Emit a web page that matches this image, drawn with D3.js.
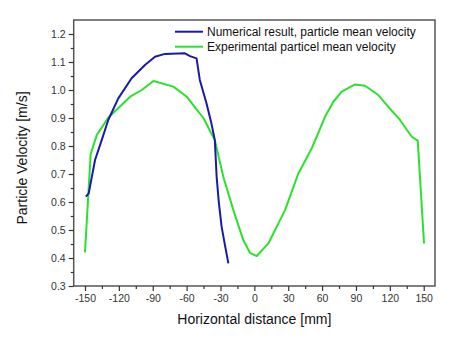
<!DOCTYPE html>
<html><head><meta charset="utf-8">
<script src="https://cdn.jsdelivr.net/npm/d3@7"></script>
<style>body{margin:0;background:#fff}svg{display:block;font-family:"Liberation Sans",Arial,sans-serif}</style>
</head><body><div id="chart"></div>
<script>
const numX = [-149.3,-146.7,-141.1,-135.2,-129.4,-120.5,-108.7,-96.9,-88,-79.2,-61.5,-57,-51.2,-48.3,-42.4,-38,-35,-33.4,-31.5,-29,-26,-23];
const numY = [0.619,0.631,0.75,0.821,0.893,0.97,1.042,1.089,1.119,1.129,1.131,1.121,1.113,1.036,0.953,0.88,0.821,0.69,0.6,0.512,0.445,0.381];
const expX = [-150,-145,-139.6,-129.6,-110,-99.7,-89.4,-71.7,-59.9,-51,-45.1,-40,-35,-27.5,-18.6,-9.8,-3.8,2.1,12.4,27.2,39,50.9,62.7,70,77.4,89.2,98,109.8,118.7,129,139.4,144.7,150.3];
const expY = [0.42,0.77,0.839,0.9,0.976,1.0,1.032,1.012,0.976,0.93,0.9,0.86,0.821,0.69,0.571,0.464,0.418,0.407,0.452,0.571,0.702,0.792,0.905,0.958,0.994,1.02,1.015,0.982,0.94,0.893,0.833,0.819,0.452];
const xTicks = [-150,-120,-90,-60,-30,0,30,60,90,120,150];
const yTicks = [0.3,0.4,0.5,0.6,0.7,0.8,0.9,1.0,1.1,1.2];
const seriesNames = ["Numerical result, particle mean velocity","Experimental particel mean velocity"];
const colors = ["#1a1aaa","#2ee02e"];

const W=450,H=343, L=73.7, R=435, T=20, B=286;
const svg=d3.select("#chart").append("svg").attr("width",W).attr("height",H);
const x=d3.scaleLinear().domain([-160,160]).range([L,R]);
const y=d3.scaleLinear().domain([0.3,1.25]).range([B,T]);

svg.append("rect").attr("x",L).attr("y",T).attr("width",R-L).attr("height",B-T)
  .attr("fill","none").attr("stroke","#555").attr("stroke-width",1.5);

const xMinor=d3.range(-165,166,15).filter(v=>v>-160&&v<160&&!xTicks.includes(v));
const yMinor=d3.range(0.35,1.25,0.1).map(v=>+v.toFixed(2));

svg.append("g").attr("transform",`translate(0,${B})`)
  .call(d3.axisBottom(x).tickValues(xTicks).tickSize(5).tickPadding(4).tickFormat(d=>String(d)));
svg.append("g").attr("transform",`translate(0,${B})`)
  .call(d3.axisBottom(x).tickValues(xMinor).tickSize(3).tickFormat(""));
svg.append("g").attr("transform",`translate(${L},0)`)
  .call(d3.axisLeft(y).tickValues(yTicks).tickSize(5).tickPadding(3).tickFormat(d=>d.toFixed(1)));
svg.append("g").attr("transform",`translate(${L},0)`)
  .call(d3.axisLeft(y).tickValues(yMinor).tickSize(3).tickFormat(""));
svg.selectAll(".domain").remove();
svg.selectAll(".tick line").attr("stroke","#333").attr("stroke-width",1.2);
svg.selectAll(".tick text").attr("fill","#333").style("font-size","10.5px");

const line=d3.line().x(d=>x(d[0])).y(d=>y(d[1]));
const data=[d3.zip(numX,numY), d3.zip(expX,expY)];
[1,0].forEach(i=>{
  svg.append("path").datum(data[i]).attr("d",line).attr("fill","none")
    .attr("stroke",colors[i]).attr("stroke-width",2).attr("stroke-linejoin","round");
});

seriesNames.forEach((n,i)=>{
  const yy=31.7+i*15;
  svg.append("line").attr("x1",175).attr("x2",203).attr("y1",yy).attr("y2",yy)
    .attr("stroke",colors[i]).attr("stroke-width",2);
  svg.append("text").attr("x",207).attr("y",yy+4.3).text(n).style("font-size","12px").attr("fill","#111");
});

svg.append("text").attr("x",(L+R)/2).attr("y",324).attr("text-anchor","middle")
  .style("font-size","14px").attr("fill","#111").text("Horizontal distance [mm]");
svg.append("text").attr("transform",`translate(27,${(T+B)/2+5}) rotate(-90)`).attr("text-anchor","middle")
  .style("font-size","14px").attr("fill","#111").text("Particle Velocity [m/s]");
</script></body></html>
